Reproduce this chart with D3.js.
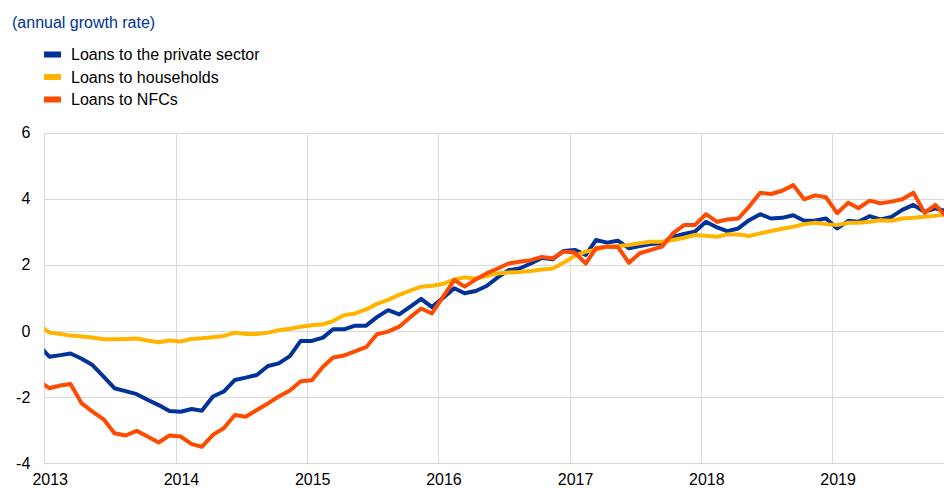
<!DOCTYPE html>
<html>
<head>
<meta charset="utf-8">
<script src="https://cdn.jsdelivr.net/npm/d3@7"></script>
<style>
  body { margin: 0; background: #fff; }
  svg { display: block; font-family: "Liberation Sans", Arial, sans-serif; }
  .grid line { stroke: #d9d9d9; stroke-width: 1; shape-rendering: crispEdges; }
  .grid path { display: none; }
  .labels text { font-size: 16px; fill: #000; }
  .labels path, .labels line { display: none; }
</style>
</head>
<body>
<div id="chart"></div>
<script>
// monthly observations, first value is December 2012
var firstMonth = [2012, 11];

var seriesNames = ["Loans to the private sector", "Loans to households", "Loans to NFCs"];
var seriesColors = ["#003299", "#ffb400", "#ff4b00"];

var privateSector = [
    -0.4, -0.78, -0.73, -0.68, -0.84, -1.03, -1.38, -1.73, -1.82, -1.91, -2.08, -2.24, -2.42,
    -2.44, -2.36, -2.41, -1.98, -1.83, -1.48, -1.41, -1.33, -1.06, -0.98, -0.76, -0.30,
    -0.30, -0.2, 0.05, 0.05, 0.16, 0.16, 0.42, 0.63, 0.5, 0.73, 0.97, 0.72,
    1.0, 1.29, 1.14, 1.21, 1.36, 1.62, 1.84, 1.89, 2.04, 2.21, 2.17, 2.42,
    2.45, 2.3, 2.75, 2.67, 2.73, 2.5, 2.57, 2.63, 2.65, 2.85, 2.93, 3.0,
    3.3, 3.13, 3.02, 3.1, 3.35, 3.53, 3.4, 3.42, 3.5, 3.33, 3.34, 3.4,
    3.1, 3.33, 3.3, 3.47, 3.37, 3.45, 3.66, 3.81, 3.6, 3.71, 3.62
];

var households = [
    0.2, -0.05, -0.09, -0.14, -0.17, -0.2, -0.25, -0.25, -0.24, -0.23, -0.29, -0.34, -0.29,
    -0.32, -0.24, -0.22, -0.19, -0.15, -0.05, -0.09, -0.09, -0.05, 0.02, 0.07, 0.13,
    0.17, 0.2, 0.3, 0.48, 0.53, 0.65, 0.82, 0.94, 1.09, 1.22, 1.34, 1.37,
    1.42, 1.56, 1.62, 1.59, 1.66, 1.74, 1.77, 1.78, 1.81, 1.86, 1.89, 2.06,
    2.27, 2.4, 2.45, 2.55, 2.57, 2.6, 2.65, 2.7, 2.7, 2.75, 2.82, 2.9,
    2.88, 2.85, 2.92, 2.92, 2.87, 2.95, 3.02, 3.09, 3.15, 3.23, 3.27, 3.23,
    3.2, 3.27, 3.27, 3.3, 3.35, 3.33, 3.4, 3.42, 3.45, 3.48, 3.53
];

var nfcs = [
    -1.5, -1.73, -1.65, -1.6, -2.19, -2.44, -2.67, -3.09, -3.16, -3.02, -3.19, -3.37, -3.16,
    -3.19, -3.42, -3.5, -3.14, -2.94, -2.54, -2.59, -2.39, -2.19, -1.98, -1.8, -1.52,
    -1.49, -1.08, -0.8, -0.74, -0.62, -0.49, -0.1, -0.02, 0.13, 0.41, 0.68, 0.53,
    1.04, 1.54, 1.34, 1.56, 1.74, 1.89, 2.04, 2.09, 2.14, 2.24, 2.2, 2.4,
    2.37, 2.04, 2.5, 2.55, 2.54, 2.06, 2.35, 2.45, 2.55, 2.95, 3.2, 3.2,
    3.53, 3.3, 3.37, 3.4, 3.76, 4.18, 4.14, 4.24, 4.41, 3.98, 4.1, 4.04,
    3.56, 3.88, 3.71, 3.94, 3.86, 3.91, 3.98, 4.18, 3.57, 3.81, 3.45
];

var yTicks = [-4, -2, 0, 2, 4, 6];
var yearLabels = [2013, 2014, 2015, 2016, 2017, 2018, 2019];
var unitLabel = "(annual growth rate)";

var width = 944, height = 488;
var plotLeft = 44.3, plotRight = 944, plotTop = 132.5, plotBottom = 463.3;

var svg = d3.select("#chart").append("svg")
    .attr("width", width)
    .attr("height", height);

// scales, the x range runs past the picture edge (it ends at 2020)
var x = d3.scaleTime()
    .domain([new Date(2013, 0, 1), new Date(2020, 0, 1)])
    .range([plotLeft, 963.4]);

var y = d3.scaleLinear()
    .domain([-4, 6])
    .range([plotBottom, plotTop]);

// turn one series into dated points, plotted mid-month
function toPoints(values) {
    return values.map(function(v, i) {
        return { date: new Date(firstMonth[0], firstMonth[1] + i, 15), value: v };
    });
}

// horizontal gridlines and y labels (plain hyphen for negatives)
svg.append("g")
    .attr("class", "grid labels")
    .attr("transform", "translate(" + plotLeft + ",0)")
    .call(d3.axisLeft(y).tickValues(yTicks).tickSize(0).tickPadding(14)
        .tickFormat(function(d) { return String(d); }));

svg.append("g")
    .attr("class", "grid")
    .attr("transform", "translate(" + plotLeft + ",0)")
    .call(d3.axisLeft(y).tickValues(yTicks).tickSize(-(plotRight - plotLeft)).tickFormat(""));

// vertical gridlines at the start of each year
svg.append("g")
    .attr("class", "grid")
    .attr("transform", "translate(0," + plotBottom + ")")
    .call(d3.axisBottom(x).ticks(d3.timeYear.every(1)).tickSize(-(plotBottom - plotTop)).tickFormat(""));

// year labels sit under the January points
svg.append("g")
    .attr("class", "labels")
    .attr("transform", "translate(0," + plotBottom + ")")
    .call(d3.axisBottom(x)
        .tickValues(yearLabels.map(function(yr) { return new Date(yr, 0, 16); }))
        .tickSize(0)
        .tickPadding(10)
        .tickFormat(d3.timeFormat("%Y")));

// clip the lines to the plot area
svg.append("clipPath")
    .attr("id", "plotClip")
    .append("rect")
        .attr("x", plotLeft)
        .attr("y", 0)
        .attr("width", plotRight - plotLeft)
        .attr("height", height);

var line = d3.line()
    .x(function(d) { return x(d.date); })
    .y(function(d) { return y(d.value); });

// draw order: private sector, households, NFCs on top
var allSeries = [privateSector, households, nfcs];
svg.append("g")
    .attr("clip-path", "url(#plotClip)")
    .selectAll("path")
    .data(allSeries)
    .enter().append("path")
        .attr("d", function(d) { return line(toPoints(d)); })
        .attr("fill", "none")
        .attr("stroke", function(d, i) { return seriesColors[i]; })
        .attr("stroke-width", 4)
        .attr("stroke-linejoin", "round");

// unit label
svg.append("text")
    .attr("x", 12)
    .attr("y", 28)
    .attr("font-size", 16)
    .attr("fill", "#003299")
    .text(unitLabel);

// legend
var legend = svg.selectAll("g.legend")
    .data(seriesNames)
    .enter().append("g")
        .attr("class", "legend")
        .attr("transform", function(d, i) { return "translate(44," + (54.5 + i * 22.5) + ")"; });

legend.append("rect")
    .attr("x", 0)
    .attr("y", -3)
    .attr("width", 17)
    .attr("height", 6)
    .attr("fill", function(d, i) { return seriesColors[i]; });

legend.append("text")
    .attr("x", 27)
    .attr("y", 5.7)
    .attr("font-size", 16)
    .attr("fill", "#000")
    .text(function(d) { return d; });
</script>
</body>
</html>
